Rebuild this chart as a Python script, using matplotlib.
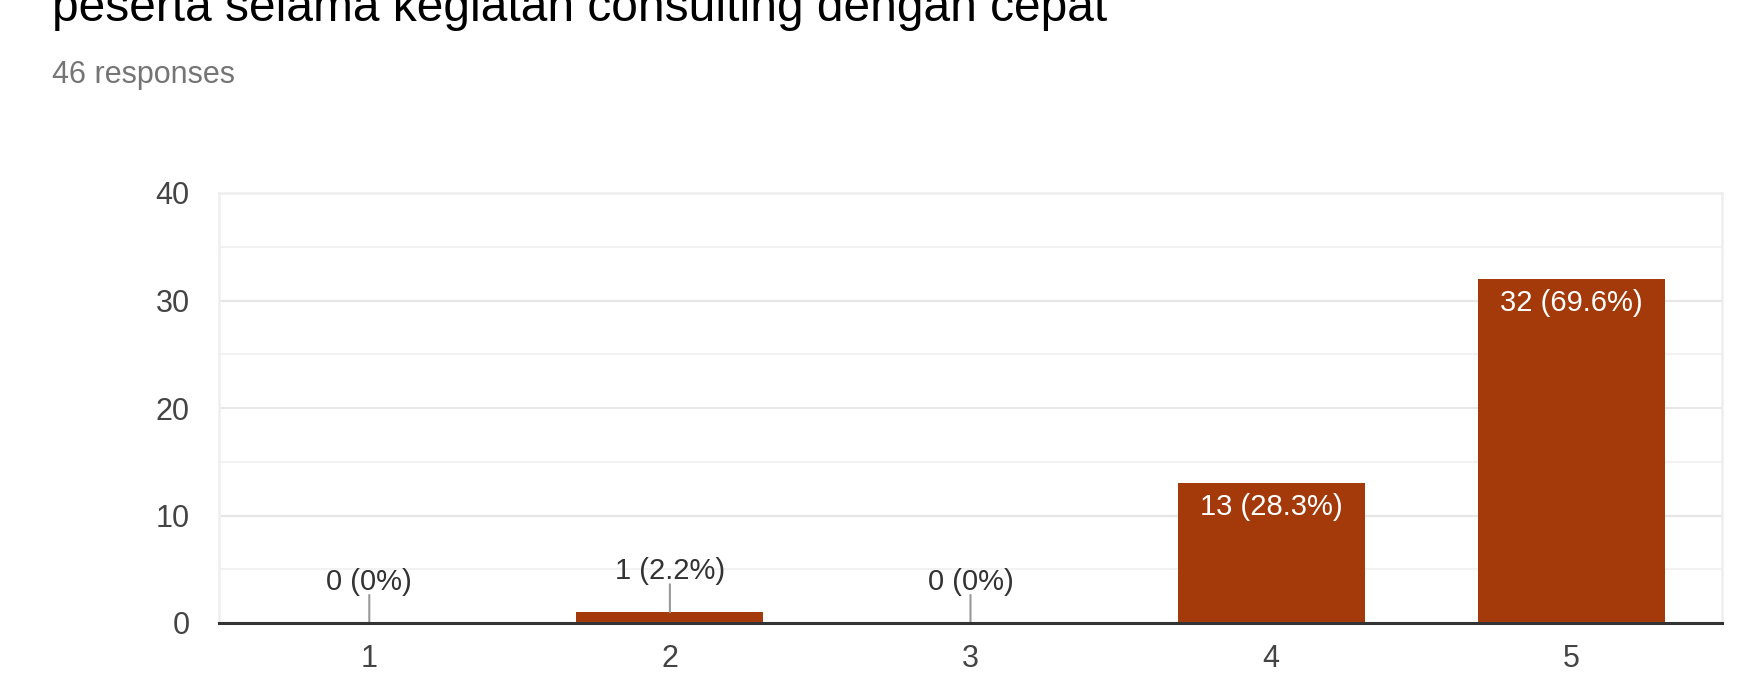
import numpy as np
import matplotlib.pyplot as plt
from matplotlib.ticker import MultipleLocator

# Data
title = 'peserta selama kegiatan consulting dengan cepat'
n_responses = 46
categories = ['1', '2', '3', '4', '5']
counts = [0, 1, 0, 13, 32]
percents = [0, 2.2, 0, 28.3, 69.6]

bar_color = '#A43A0A'
plt.rcParams['font.family'] = ['Liberation Sans', 'DejaVu Sans']

fig = plt.figure(figsize=(17.5, 6.9), dpi=100)
ax = fig.add_axes([219 / 1750, 1 - 623 / 690, 1503 / 1750, 430 / 690])

x = np.arange(len(categories))
ax.bar(x, counts, width=0.622, color=bar_color, zorder=2)

ax.set_xlim(-0.5, len(categories) - 0.5)
ax.set_ylim(0, 40)
ax.set_xticks(x)
ax.set_xticklabels(categories)
ax.yaxis.set_major_locator(MultipleLocator(10))
ax.yaxis.set_minor_locator(MultipleLocator(5))
ax.grid(axis='y', which='major', color='#e6e6e6', lw=1.5, zorder=0)
ax.grid(axis='y', which='minor', color='#f2f2f2', lw=1.5, zorder=0)
ax.tick_params(axis='y', which='both', length=0, pad=21, labelsize=22, labelcolor='#444444')
ax.tick_params(axis='x', length=0, pad=15, labelsize=22, labelcolor='#444444')

for s in ['top', 'left', 'right']:
    ax.spines[s].set_color('#eeeeee')
    ax.spines[s].set_linewidth(1.8)
ax.spines['bottom'].set_color('#333333')
ax.spines['bottom'].set_linewidth(2.2)
ax.spines['bottom'].set_zorder(3)

# Value labels
for xi, c, p in zip(x, counts, percents):
    label = f'{c} ({p:g}%)'
    if c >= 5:
        ax.annotate(label, (xi, c), xytext=(0, -24), textcoords='offset pixels',
                    ha='center', va='center', color='white', fontsize=21)
    else:
        ax.annotate('', (xi, c), xytext=(0, 28), textcoords='offset pixels',
                    arrowprops=dict(arrowstyle='-', color='#999999', lw=1.5,
                                    shrinkA=0, shrinkB=0))
        ax.annotate(label, (xi, c), xytext=(0, 41), textcoords='offset pixels',
                    ha='center', va='center', color='#333333', fontsize=21)

fig.text(52 / 1750, 1 - 21 / 690, title, fontsize=34.5, color='#000000', va='baseline')
fig.text(52 / 1750, 1 - 83 / 690, f'{n_responses} responses', fontsize=22,
         color='#757575', va='baseline')

fig.savefig('out.png', dpi=100)
